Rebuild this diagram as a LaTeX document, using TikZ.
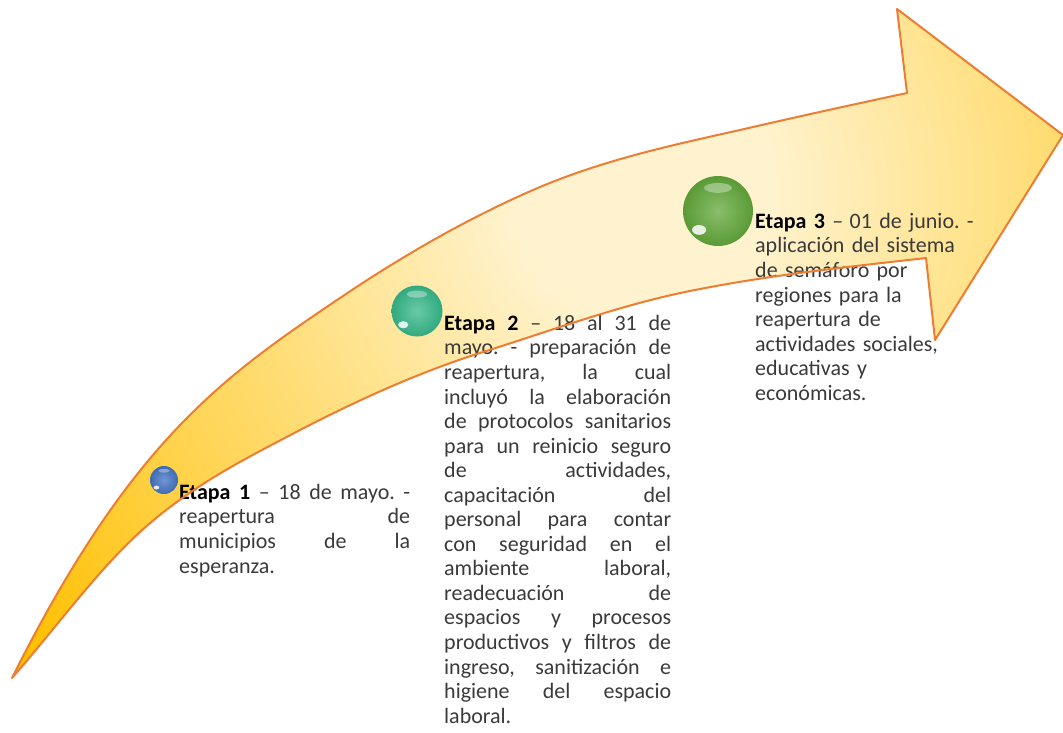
\documentclass[tikz,border=0pt]{standalone}
\usepackage{fontspec}
\setmainfont{Carlito}
\usetikzlibrary{positioning}
\definecolor{arrowlight}{HTML}{FFF3CF}
\definecolor{arrowdeep}{HTML}{FFC000}
\definecolor{arrowline}{HTML}{ED7D31}
\definecolor{inkgray}{HTML}{3A3A3A}
\definecolor{beadblue}{HTML}{4472C4}
\definecolor{beadteal}{HTML}{36B88A}
\definecolor{beadgreen}{HTML}{62A83A}
\pgfdeclareradialshading{arrowglow}{\pgfpoint{0bp}{0bp}}{color(0bp)=(arrowlight); color(4bp)=(arrowlight); color(24bp)=(arrowdeep); color(50bp)=(arrowdeep)}
\hyphenpenalty=10000
\frenchspacing
\newcommand{\stagename}[1]{\textcolor{black}{\textbf{#1}}}
\tikzset{
  stage/.style={anchor=north west, inner sep=0pt, text=inkgray,
                font=\fontsize{22}{24.55}\selectfont, align=justify},
  outline/.style={draw=arrowline, line width=2pt, line join=round},
  bead/.style 2 args={circle, inner sep=0pt, minimum size=#1,
                inner color=#2!75!white, outer color=#2!92!black,
                path picture={
                  \fill[white, opacity=.35]
                    ([yshift=.33*#1]path picture bounding box.center) ellipse ({.2*#1} and {.07*#1});
                  \fill[white, opacity=.85]
                    ([xshift=-.27*#1, yshift=-.27*#1]path picture bounding box.center) ellipse ({.1*#1} and {.07*#1});
                }}
}

\begin{document}
\begin{tikzpicture}[x=1pt,y=-1pt]
    \useasboundingbox (0,0) rectangle (1063,732);
    % curved arrow
    \path[save path=\arrowpath]
      (12,678) .. controls (56,590) and (99,521) .. (143,467)
               .. controls (208,387) and (272,344) .. (337,300)
               .. controls (405,254) and (472,216) .. (540,187)
               .. controls (607,159) and (673,145) .. (740,130)
               .. controls (796,117) and (851,105) .. (907,93)
      -- (897,9) -- (1063,135) -- (935,340) -- (926,258)
               .. controls (847,267) and (769,275) .. (690,291)
               .. controls (620,305) and (550,331) .. (480,353)
               .. controls (420,372) and (360,399) .. (300,430)
               .. controls (247,458) and (193,484) .. (140,532)
               .. controls (97,571) and (55,629) .. (12,678)
      -- cycle;
    \path[use path=\arrowpath,
          path picture={\fill[shading=arrowglow] (640,190) circle (800pt);}];

    % stage beads
    \node[bead={28pt}{beadblue}] (b1) at (164,480) {};
    \node[bead={51pt}{beadteal}] (b2) at (417,311) {};
    \node[bead={70pt}{beadgreen}] (b3) at (718,211) {};

    % stage texts
    \node[stage, text width=231pt] (t1) at (179,482)
      {\strut\stagename{Etapa 1} – 18 de mayo. -\linebreak reapertura de\linebreak
       municipios de la\linebreak esperanza.};
    \node[stage, text width=227pt] (t2) at (444,313)
      {\strut\stagename{Etapa 2} – 18 al 31 de\linebreak mayo. - preparación de\linebreak
       reapertura, la cual\linebreak incluyó la elaboración\linebreak
       de protocolos sanitarios\linebreak para un reinicio seguro\linebreak
       de actividades,\linebreak capacitación del\linebreak personal para contar\linebreak
       con seguridad en el\linebreak ambiente laboral,\linebreak readecuación de\linebreak
       espacios y procesos\linebreak productivos y filtros de\linebreak
       ingreso, sanitización e\linebreak higiene del espacio\linebreak laboral.};
    \node[stage, text width=240pt, align=left] (t3) at (755,211)
      {\strut\stagename{Etapa 3} –\kern-1pt{} 01 de junio. -\\ aplicación del sistema\\
       de semáforo por\\ regiones para la\\ reapertura de\\ actividades sociales,\\
       educativas y\\ económicas.};

    \path[use path=\arrowpath, outline];
\end{tikzpicture}
\end{document}
